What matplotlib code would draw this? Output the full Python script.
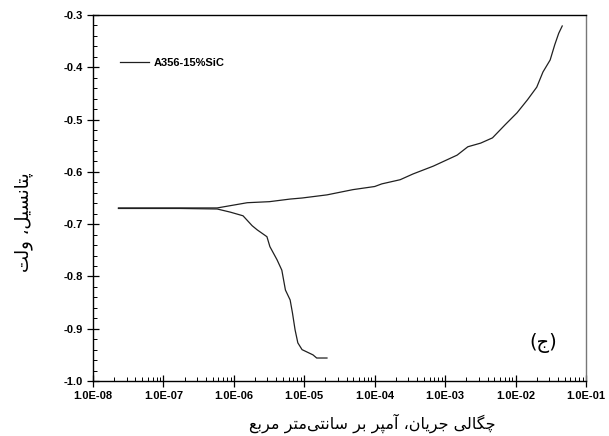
import matplotlib
matplotlib.use("Agg")
import matplotlib.pyplot as plt
from matplotlib.ticker import LogLocator, MultipleLocator, FuncFormatter, NullFormatter

# ---- data (current density A/cm2, potential V) ----
anodic_i = [2.3e-8, 5.8e-7, 1.55e-6, 3.2e-6, 6.3e-6, 9.3e-6, 2.1e-5, 4.9e-5, 1.0e-4,
            1.26e-4, 2.3e-4, 3.5e-4, 6.8e-4, 1.48e-3, 2.1e-3, 3.2e-3, 4.7e-3, 7.1e-3,
            1.05e-2, 1.48e-2, 2.0e-2, 2.45e-2, 3.1e-2, 3.6e-2, 4.1e-2, 4.6e-2]
anodic_e = [-0.669, -0.669, -0.659, -0.657, -0.652, -0.650, -0.644, -0.634, -0.628,
            -0.623, -0.615, -0.604, -0.589, -0.568, -0.552, -0.545, -0.535, -0.510,
            -0.487, -0.462, -0.438, -0.409, -0.386, -0.357, -0.335, -0.321]

cathodic_i = [2.3e-8, 1.74e-7, 5.8e-7, 8.9e-7, 1.35e-6, 1.82e-6, 2.15e-6, 2.95e-6,
              3.25e-6, 4.1e-6, 4.8e-6, 5.4e-6, 6.3e-6, 6.8e-6, 7.4e-6, 8.1e-6,
              9.3e-6, 1.33e-5, 1.5e-5, 2.1e-5]
cathodic_e = [-0.670, -0.670, -0.671, -0.677, -0.684, -0.703, -0.711, -0.724,
              -0.743, -0.768, -0.788, -0.826, -0.845, -0.870, -0.902, -0.927,
              -0.940, -0.950, -0.956, -0.956]

series_label = "A356-15%SiC"
xlabel_fa = "چگالی جریان، آمپر بر سانتی‌متر مربع"
ylabel_fa = "پتانسیل، ولت"
panel_fa = "ج"

# ---- tiny Persian shaper (matplotlib has no Arabic shaping) ----
FORMS = {
    'ا': ('\uFE8D', '\uFE8E'), 'آ': ('\uFE81', '\uFE82'),
    'ر': ('\uFEAD', '\uFEAE'), 'و': ('\uFEED', '\uFEEE'),
    'ب': ('\uFE8F', '\uFE90', '\uFE91', '\uFE92'),
    'پ': ('\uFB56', '\uFB57', '\uFB58', '\uFB59'),
    'ت': ('\uFE95', '\uFE96', '\uFE97', '\uFE98'),
    'ج': ('\uFE9D', '\uFE9E', '\uFE9F', '\uFEA0'),
    'چ': ('\uFB7A', '\uFB7B', '\uFB7C', '\uFB7D'),
    'س': ('\uFEB1', '\uFEB2', '\uFEB3', '\uFEB4'),
    'ع': ('\uFEC9', '\uFECA', '\uFECB', '\uFECC'),
    'گ': ('\uFB92', '\uFB93', '\uFB94', '\uFB95'),
    'ل': ('\uFEDD', '\uFEDE', '\uFEDF', '\uFEE0'),
    'م': ('\uFEE1', '\uFEE2', '\uFEE3', '\uFEE4'),
    'ن': ('\uFEE5', '\uFEE6', '\uFEE7', '\uFEE8'),
    'ی': ('\uFBFC', '\uFBFD', '\uFBFE', '\uFBFF'),
}


def shape(txt):
    out = []
    for k, c in enumerate(txt):
        if c not in FORMS:
            out.append(c)
            continue
        f = FORMS[c]
        prev = txt[k - 1] if k > 0 else ''
        nxt = txt[k + 1] if k < len(txt) - 1 else ''
        jp = prev in FORMS and len(FORMS[prev]) == 4
        jn = nxt in FORMS and len(f) == 4
        if jp and jn:
            out.append(f[3])
        elif jp:
            out.append(f[1])
        elif jn:
            out.append(f[2])
        else:
            out.append(f[0])
    return ''.join(out).replace('\u200c', '')


def rtl(txt):
    # shaped glyphs in visual (left to right) order
    return shape(txt)[::-1]


plt.rcParams['axes.unicode_minus'] = False

fig = plt.figure(figsize=(6.09, 4.36), dpi=100)
ax = fig.add_axes([0.1527, 0.1261, 0.8095, 0.8395])

ax.plot(anodic_i, anodic_e, color="#202020", lw=0.9, label=series_label)
ax.plot(cathodic_i, cathodic_e, color="#202020", lw=0.9)

ax.set_xscale("log")
ax.set_xlim(1e-8, 1e-1)
ax.set_ylim(-1.0, -0.3)

ax.xaxis.set_major_locator(LogLocator(base=10, numticks=10))
ax.xaxis.set_minor_locator(LogLocator(base=10, subs=range(2, 10), numticks=10))
ax.xaxis.set_major_formatter(FuncFormatter(lambda v, p: f"{v:.1E}"))
ax.xaxis.set_minor_formatter(NullFormatter())
ax.yaxis.set_major_locator(MultipleLocator(0.1))
ax.yaxis.set_minor_locator(MultipleLocator(0.02))
ax.yaxis.set_major_formatter(FuncFormatter(lambda v, p: f"{v:.1f}"))

ax.tick_params(which="major", direction="inout", length=8, width=0.9, pad=3,
               top=False, right=False)
ax.tick_params(which="minor", direction="in", length=3, width=0.7,
               top=False, right=False)
for lab in ax.get_xticklabels() + ax.get_yticklabels():
    lab.set_family("Liberation Sans")
    lab.set_fontweight("bold")
    lab.set_fontsize(8)

for s in ["left", "bottom", "top"]:
    ax.spines[s].set_linewidth(1.0)
    ax.spines[s].set_color("black")
ax.spines["right"].set_color("#777777")
ax.spines["right"].set_linewidth(1.0)

ax.legend(loc="upper left", bbox_to_anchor=(0.035, 0.91), frameon=False,
          handlelength=2.6, handletextpad=0.4,
          prop={"family": "Liberation Sans", "weight": "bold", "size": 8})

# Persian labels
fig.text(372 / 609, 1 - 423 / 436, rtl(xlabel_fa), ha="center", va="center",
         family="DejaVu Sans", fontsize=11.5)
fig.text(24 / 609, 1 - 222 / 436, rtl(ylabel_fa), ha="center", va="center",
         rotation=90, family="DejaVu Sans", fontsize=13)
ax.text(0.913, 0.104, "(" + shape(panel_fa) + ")", transform=ax.transAxes,
        ha="center", va="center", family="DejaVu Sans", fontsize=14)

fig.savefig("out.png", dpi=100)
